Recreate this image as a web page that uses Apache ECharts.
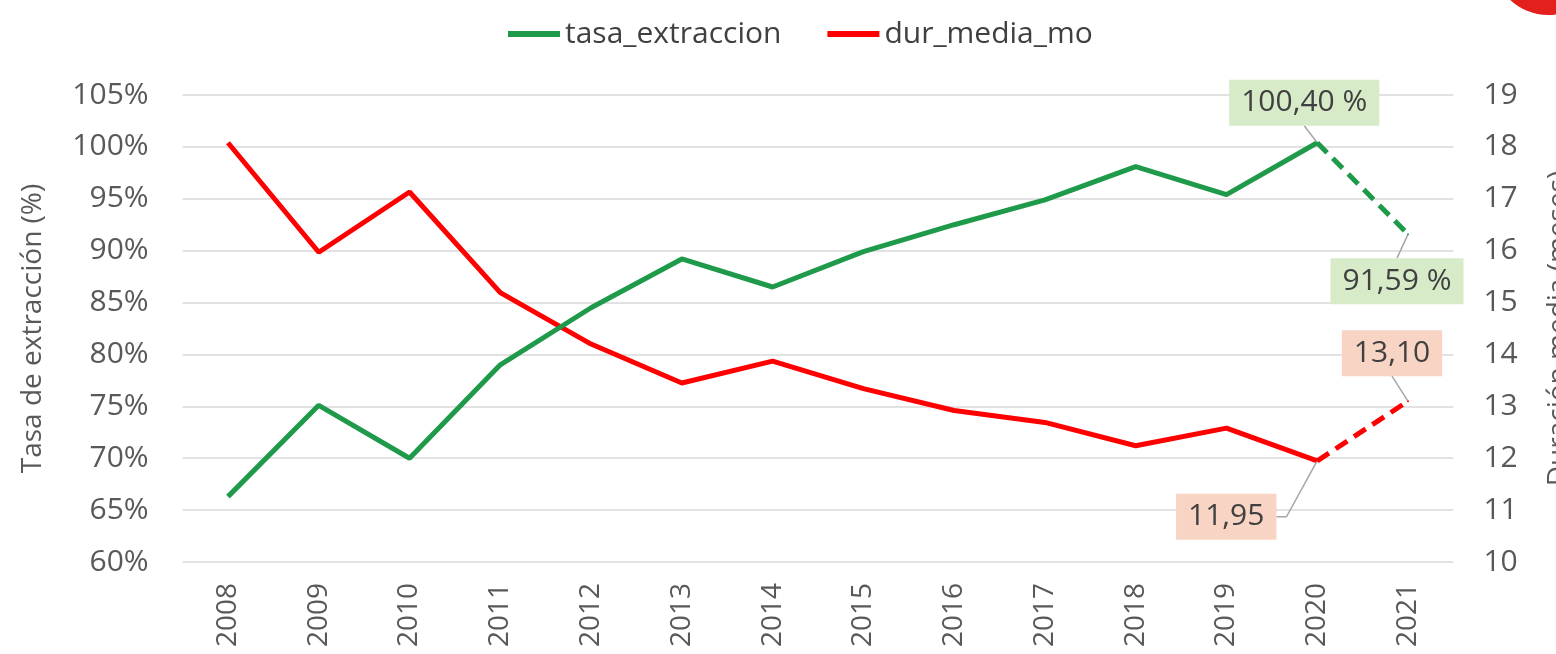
<!DOCTYPE html>
<html>
<head>
<meta charset="utf-8">
<script src="https://cdn.jsdelivr.net/npm/echarts@6/dist/echarts.min.js"></script>
<style>
html,body{margin:0;padding:0;background:#fff;}
#chart{width:1556px;height:654px;}
</style>
</head>
<body>
<div id="chart"></div>
<script>
// ---- data ----
const years = ['2008','2009','2010','2011','2012','2013','2014','2015','2016','2017','2018','2019','2020','2021'];
const tasaExtraccion = [66.3, 75.1, 70.0, 79.0, 84.5, 89.2, 86.5, 89.9, 92.5, 94.9, 98.1, 95.4, 100.40, 91.59];
const durMediaMo = [18.08, 15.97, 17.13, 15.19, 14.2, 13.45, 13.87, 13.34, 12.92, 12.69, 12.24, 12.58, 11.95, 13.10];
const leftTicks = {min: 60, max: 105, interval: 5};
const rightTicks = {min: 10, max: 19, interval: 1};
const seriesNames = ['tasa_extraccion', 'dur_media_mo'];

// last segment (projection) is dashed
const lastSolid = years.length - 2;
const solidPart = arr => arr.map((v, i) => (i <= lastSolid ? v : null));
const dashedPart = arr => arr.map((v, i) => (i >= lastSolid ? v : null));

const GREEN = '#1f9a4a';
const RED = '#ff0000';
const FONT = '"Open Sans", "DejaVu Sans", sans-serif';

const fmtNum = v => v.toFixed(2).replace('.', ',');

// label offsets (relative to the point) for the annotated points
const greenLabelShift = {12: [-13, -40], 13: [-11, 47]};
const redLabelShift = {12: [-91, 56], 13: [-16, -48]};

const chart = echarts.init(document.getElementById('chart'));

const labelBase = {
  show: true,
  position: 'inside',
  fontFamily: FONT,
  fontSize: 30,
  color: '#404040',
  padding: [9, 12, 7, 12]
};
const labelLineBase = {
  show: true,
  lineStyle: {color: '#a6a6a6', width: 1.5}
};

// red dashed data: the 2020 label gets a short horizontal elbow on its leader line
const redDashedData = dashedPart(durMediaMo).map((v, i) =>
  (v != null && i === lastSolid) ? {value: v, labelLine: {show: true, length2: 10}} : v);

chart.setOption({
  animation: false,
  backgroundColor: '#ffffff',
  textStyle: {fontFamily: FONT},
  legend: {
    data: seriesNames,
    top: 14,
    left: 503,
    icon: 'rect',
    itemWidth: 52,
    itemHeight: 6,
    itemGap: 46,
    textStyle: {fontFamily: FONT, fontSize: 30, color: '#404040'}
  },
  grid: {left: 182.6, right: 102.6, top: 95, bottom: 92, containLabel: false, outerBoundsMode: 'none'},
  xAxis: {
    type: 'category',
    data: years,
    boundaryGap: true,
    axisLine: {show: false},
    axisTick: {show: false},
    axisLabel: {rotate: 90, margin: 21, fontSize: 28, color: '#595959', fontFamily: FONT}
  },
  yAxis: [
    {
      type: 'value',
      min: leftTicks.min, max: leftTicks.max, interval: leftTicks.interval,
      name: 'Tasa de extracción (%)',
      nameLocation: 'middle',
      nameGap: 136,
      nameTextStyle: {fontSize: 28, color: '#595959', fontFamily: FONT},
      axisLine: {show: false},
      axisTick: {show: false},
      axisLabel: {formatter: '{value}%', fontSize: 30, color: '#595959', margin: 34, fontFamily: FONT},
      splitLine: {show: true, lineStyle: {color: '#d9d9d9', width: 1.5}}
    },
    {
      type: 'value',
      min: rightTicks.min, max: rightTicks.max, interval: rightTicks.interval,
      name: 'Duración media (meses)',
      nameLocation: 'middle',
      nameGap: 92,
      nameTextStyle: {fontSize: 28, color: '#595959', fontFamily: FONT},
      axisLine: {show: false},
      axisTick: {show: false},
      axisLabel: {fontSize: 30, color: '#595959', margin: 30, fontFamily: FONT},
      splitLine: {show: false}
    }
  ],
  graphic: [
    {type: 'circle', shape: {cx: 1548, cy: -40, r: 55}, style: {fill: '#e3201b'}, silent: true}
  ],
  series: [
    {
      name: seriesNames[0], type: 'line', yAxisIndex: 0,
      data: solidPart(tasaExtraccion),
      showSymbol: false, symbol: 'none',
      lineStyle: {color: GREEN, width: 5},
      itemStyle: {color: GREEN}, z: 3
    },
    {
      name: seriesNames[0], type: 'line', yAxisIndex: 0,
      data: dashedPart(tasaExtraccion),
      showSymbol: true, symbol: 'circle', symbolSize: 2,
      lineStyle: {color: GREEN, width: 5, type: [14, 8]},
      itemStyle: {color: GREEN}, z: 3,
      label: Object.assign({}, labelBase, {
        backgroundColor: '#d8ebc8',
        formatter: p => fmtNum(p.value) + ' %'
      }),
      labelLine: labelLineBase,
      labelLayout: p => {
        const s = greenLabelShift[p.dataIndex] || [0, 0];
        return {dx: s[0], dy: s[1]};
      }
    },
    {
      name: seriesNames[1], type: 'line', yAxisIndex: 1,
      data: solidPart(durMediaMo),
      showSymbol: false, symbol: 'none',
      lineStyle: {color: RED, width: 5},
      itemStyle: {color: RED}, z: 2
    },
    {
      name: seriesNames[1], type: 'line', yAxisIndex: 1,
      data: redDashedData,
      showSymbol: true, symbol: 'circle', symbolSize: 2,
      lineStyle: {color: RED, width: 5, type: [14, 8]},
      itemStyle: {color: RED}, z: 2,
      label: Object.assign({}, labelBase, {
        backgroundColor: '#f7d4c4',
        formatter: p => fmtNum(Number(p.value))
      }),
      labelLine: labelLineBase,
      labelLayout: p => {
        const s = redLabelShift[p.dataIndex] || [0, 0];
        return {dx: s[0], dy: s[1]};
      }
    }
  ]
});
</script>
</body>
</html>
